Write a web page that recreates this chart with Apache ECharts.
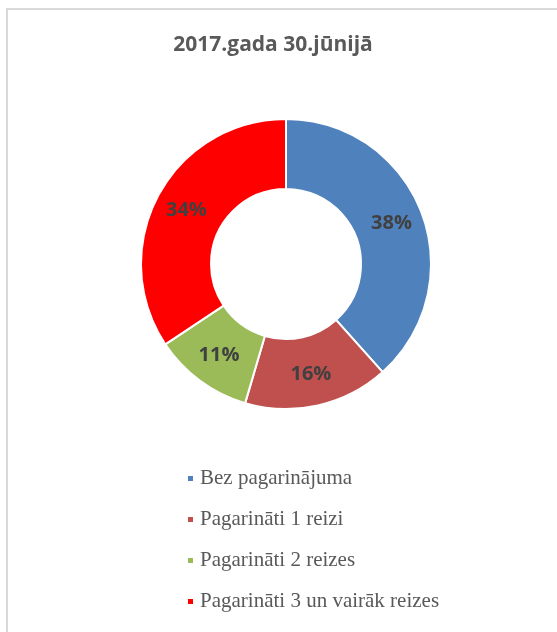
<!DOCTYPE html>
<html>
<head>
<meta charset="utf-8">
<script src="https://cdn.jsdelivr.net/npm/echarts@6/dist/echarts.min.js"></script>
<style>
  html, body { margin: 0; padding: 0; background: #fff; overflow: hidden; }
  #frame {
    position: absolute; left: 6px; top: 8px; width: 600px; height: 700px;
    border-top: 2px solid #d9d9d9; border-left: 2px solid #d9d9d9;
  }
  #chart { position: absolute; left: 0; top: 0; width: 557px; height: 632px; }
</style>
</head>
<body>
<div id="frame"></div>
<div id="chart"></div>
<script>
const titleText = '2017.gada 30.jūnijā'
const categories = ['Bez pagarinājuma', 'Pagarināti 1 reizi', 'Pagarināti 2 reizes', 'Pagarināti 3 un vairāk reizes']
const shares = [38, 16, 11, 34]
const colors = ['#4f81bd', '#c0504d', '#9bbb59', '#ff0000']

const chart = echarts.init(document.getElementById('chart'))

chart.setOption({
  animation: false,
  title: {
    text: titleText,
    left: 268,
    top: 30,
    textAlign: 'center',
    textStyle: {
      fontFamily: 'Open Sans',
      fontWeight: 'bold',
      fontSize: 21,
      color: '#595959'
    }
  },
  legend: {
    orient: 'vertical',
    left: 181,
    top: 463,
    itemWidth: 7,
    itemHeight: 7,
    itemGap: 20,
    icon: 'rect',
    textStyle: {
      fontFamily: 'Liberation Serif',
      fontSize: 21,
      color: '#595959',
      padding: [0, 0, 0, 1]
    },
    data: categories
  },
  series: [{
    type: 'pie',
    center: [286, 264],
    radius: [75, 145],
    startAngle: 90,
    clockwise: true,
    itemStyle: { borderColor: '#fff', borderWidth: 2 },
    label: {
      show: true,
      position: 'inside',
      formatter: '{c}%',
      fontFamily: 'Open Sans',
      fontWeight: 'bold',
      fontSize: 20,
      color: '#404040'
    },
    labelLine: { show: false },
    data: categories.map((name, i) => ({
      name,
      value: shares[i],
      itemStyle: { color: colors[i] }
    }))
  }]
})
</script>
</body>
</html>
